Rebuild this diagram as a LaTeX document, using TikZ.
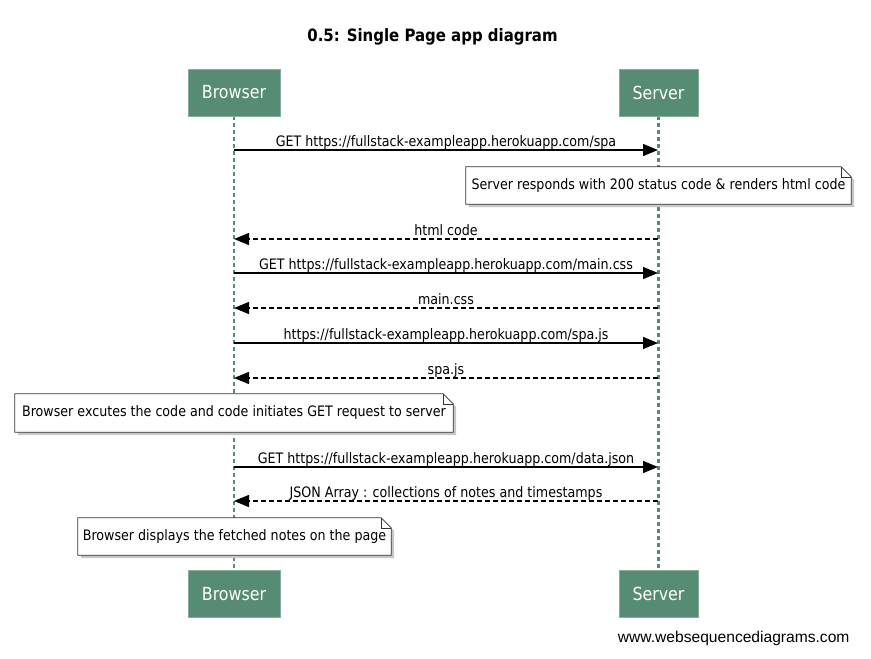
\documentclass[tikz,border=0pt]{standalone}
\usepackage{fontspec}
\setmainfont{DejaVu Sans}[FakeStretch=0.88]
\newfontfamily\footfont{Liberation Sans}
\usetikzlibrary{arrows.meta,calc,positioning,backgrounds}
\definecolor{actorgreen}{HTML}{568B74}
\tikzset{%
	actor/.style    = {draw=actorgreen!70!white, fill=actorgreen, text=white, inner xsep=12pt, minimum height=47pt, font=\fontsize{18}{20}\selectfont}, % Participant
	lifeline/.style = {actorgreen, line width=2.2pt, dash pattern=on 4pt off 3pt},
	msg/.style      = {line width=1.3pt, -{Triangle[length=15pt,width=12pt]}}, % Request
	reply/.style    = {msg, dash pattern=on 5pt off 3pt}, % Response
	msglabel/.style = {anchor=base, yshift=4pt, inner sep=0pt, font=\fontsize{14.4}{16}\selectfont},
	notebox/.style  = {inner sep=0pt, font=\fontsize{14.4}{16}\selectfont},
}

\begin{document}
\begin{tikzpicture}[x=1pt, y=-1pt]
	\useasboundingbox (0,0) rectangle (871,659);
	\node[font=\bfseries\fontsize{17}{19}\selectfont] (title) at (432.5,37) {0.5: Single Page app diagram};
	\node[actor, minimum width=92pt] (browser) at (234,92.5) {Browser};
	\node[actor, minimum width=79pt] (server) at (658.5,92.5) {Server};
	\node[actor, minimum width=92pt] (browser2) at (234,594) {Browser};
	\node[actor, minimum width=79pt] (server2) at (658.5,594) {Server};
	\node[font=\footfont\fontsize{15.6}{17}\selectfont, anchor=east] (wsd) at (853,638) {www.websequencediagrams.com};
	% notes
	\node[notebox, minimum width=385pt, minimum height=37pt] (n1) at (658.5,185.5) {Server responds with 200 status code \& renders html code};
	\node[notebox, minimum width=438pt, minimum height=38pt] (n2) at (234,413) {Browser excutes the code and code initiates GET request to server};
	\node[notebox, minimum width=313pt, minimum height=37pt] (n3) at (234.5,536.5) {Browser displays the fetched notes on the page};
	\begin{scope}[on background layer]
		\draw[lifeline] (browser) -- (browser2);
		\draw[lifeline] (server) -- (server2);
		\foreach \n in {n1,n2,n3} {
			\fill[black!22] ($(\n.south west)+(3,3)$) -- ($(\n.south east)+(3,3)$) -- ($(\n.north east)+(3,13)$) -- ($(\n.north east)+(-7,3)$) -- ($(\n.north west)+(3,3)$) -- cycle;
			\filldraw[fill=white, draw=black!80, line width=0.8pt] (\n.south west) -- (\n.south east) -- ($(\n.north east)+(0,10)$) -- ($(\n.north east)+(-10,0)$) -- (\n.north west) -- cycle;
			\draw[black!80, line width=0.6pt] ($(\n.north east)+(-10,0)$) |- ($(\n.north east)+(0,10)$);
		}
	\end{scope}
	% messages
	\foreach \i/\y in {1/150,2/239,3/273,4/308,5/343,6/378,7/467,8/501} {
		\coordinate (b\i) at (234,\y);
		\coordinate (s\i) at (658,\y);
	}
	\draw[msg] (b1) -- node[msglabel] {GET https://fullstack-exampleapp.herokuapp.com/spa} (s1);
	\draw[reply] (s2) -- node[msglabel] {html code} (b2);
	\draw[msg] (b3) -- node[msglabel] {GET https://fullstack-exampleapp.herokuapp.com/main.css} (s3);
	\draw[reply] (s4) -- node[msglabel] {main.css} (b4);
	\draw[msg] (b5) -- node[msglabel] {https://fullstack-exampleapp.herokuapp.com/spa.js} (s5);
	\draw[reply] (s6) -- node[msglabel] {spa.js} (b6);
	\draw[msg] (b7) -- node[msglabel] {GET https://fullstack-exampleapp.herokuapp.com/data.json} (s7);
	\draw[reply] (s8) -- node[msglabel] {JSON Array : collections of notes and timestamps} (b8);
\end{tikzpicture}
\end{document}
